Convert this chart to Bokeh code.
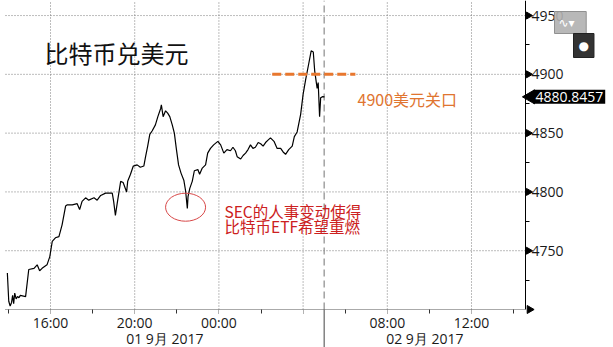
import math
import pandas as pd
from bokeh.plotting import figure
from bokeh.models import Range1d, FixedTicker, Label
from bokeh.core.properties import value
from bokeh.embed import file_html
from bokeh.resources import INLINE

# ---------------- data ----------------
times = [
    "2017-09-01 13:57", "2017-09-01 14:01", "2017-09-01 14:05", "2017-09-01 14:09",
    "2017-09-01 14:12", "2017-09-01 14:15", "2017-09-01 14:18", "2017-09-01 14:22",
    "2017-09-01 14:26", "2017-09-01 14:30", "2017-09-01 14:34", "2017-09-01 14:49",
    "2017-09-01 14:58", "2017-09-01 15:13", "2017-09-01 15:22", "2017-09-01 15:29",
    "2017-09-01 15:36", "2017-09-01 15:50", "2017-09-01 15:58", "2017-09-01 16:05",
    "2017-09-01 16:14", "2017-09-01 16:24", "2017-09-01 16:33", "2017-09-01 16:43",
    "2017-09-01 16:48", "2017-09-01 17:02", "2017-09-01 17:16", "2017-09-01 17:23",
    "2017-09-01 17:30", "2017-09-01 17:40", "2017-09-01 17:49", "2017-09-01 18:04",
    "2017-09-01 18:13", "2017-09-01 18:23", "2017-09-01 18:37", "2017-09-01 18:56",
    "2017-09-01 19:00", "2017-09-01 19:05", "2017-09-01 19:10", "2017-09-01 19:20",
    "2017-09-01 19:27", "2017-09-01 19:37", "2017-09-01 19:40", "2017-09-01 19:48",
    "2017-09-01 19:56", "2017-09-01 20:07", "2017-09-01 20:16", "2017-09-01 20:26",
    "2017-09-01 20:31", "2017-09-01 20:37", "2017-09-01 20:43", "2017-09-01 20:50",
    "2017-09-01 20:59", "2017-09-01 21:06", "2017-09-01 21:14", "2017-09-01 21:16",
    "2017-09-01 21:21", "2017-09-01 21:28", "2017-09-01 21:34", "2017-09-01 21:40",
    "2017-09-01 21:47", "2017-09-01 21:53", "2017-09-01 21:59", "2017-09-01 22:05",
    "2017-09-01 22:12", "2017-09-01 22:20", "2017-09-01 22:25", "2017-09-01 22:30",
    "2017-09-01 22:32", "2017-09-01 22:37", "2017-09-01 22:44", "2017-09-01 22:50",
    "2017-09-01 23:00", "2017-09-01 23:05", "2017-09-01 23:12", "2017-09-01 23:22",
    "2017-09-01 23:28", "2017-09-01 23:36", "2017-09-01 23:45", "2017-09-01 23:57",
    "2017-09-02 00:05", "2017-09-02 00:14", "2017-09-02 00:23", "2017-09-02 00:33",
    "2017-09-02 00:40", "2017-09-02 00:47", "2017-09-02 00:52", "2017-09-02 01:02",
    "2017-09-02 01:09", "2017-09-02 01:16", "2017-09-02 01:23", "2017-09-02 01:30",
    "2017-09-02 01:37", "2017-09-02 01:44", "2017-09-02 01:52", "2017-09-02 01:59",
    "2017-09-02 02:06", "2017-09-02 02:13", "2017-09-02 02:20", "2017-09-02 02:27",
    "2017-09-02 02:37", "2017-09-02 02:46", "2017-09-02 02:56", "2017-09-02 03:03",
    "2017-09-02 03:10", "2017-09-02 03:19", "2017-09-02 03:29", "2017-09-02 03:35",
    "2017-09-02 03:43", "2017-09-02 03:53", "2017-09-02 04:00", "2017-09-02 04:07",
    "2017-09-02 04:16", "2017-09-02 04:23", "2017-09-02 04:29", "2017-09-02 04:33",
    "2017-09-02 04:40", "2017-09-02 04:43", "2017-09-02 04:47", "2017-09-02 04:50",
    "2017-09-02 04:55", "2017-09-02 05:01",
]
prices = [
    4731, 4707, 4703, 4706,
    4712, 4705, 4714, 4709,
    4711, 4710, 4712, 4711,
    4734, 4735, 4738, 4733,
    4735, 4738, 4745, 4758,
    4761, 4762, 4772, 4788,
    4789, 4789, 4790, 4785,
    4792, 4795, 4793, 4795,
    4793, 4797, 4799, 4799,
    4792, 4780, 4790, 4809,
    4808, 4800, 4809, 4815,
    4822, 4823, 4821, 4822,
    4830, 4839, 4849, 4852,
    4857, 4864, 4871, 4874,
    4864, 4869, 4867, 4864,
    4857, 4850, 4836, 4823,
    4816, 4810, 4801, 4786,
    4796, 4803, 4809, 4818,
    4819, 4815, 4820, 4823,
    4833, 4837, 4840, 4843,
    4840, 4833, 4836, 4835,
    4838, 4835, 4830, 4828,
    4831, 4833, 4836, 4840,
    4837, 4838, 4842, 4841,
    4839, 4842, 4844, 4846,
    4843, 4837, 4837, 4834,
    4832, 4836, 4839, 4847,
    4851, 4866, 4883, 4895,
    4909, 4920, 4919, 4903,
    4888, 4893, 4864, 4880,
    4881, 4880.8457,
]
last_price = "4880.8457"
level_value = 4900
level_times = ["2017-09-02 02:32", "2017-09-02 06:29"]
level_text = "4900美元关口"
title_text = "比特币兑美元"
note_lines = ["SEC的人事变动使得", "比特币ETF希望重燃"]
dip_time = "2017-09-01 22:25"
dip_price = 4787
day_split = "2017-09-02 05:00"
day_labels = ["01 9月 2017", "02 9月 2017"]
x_tick_hours = [16, 20, 24, 28, 32, 36]
x_tick_labels = ["16:00", "20:00", "00:00", "", "08:00", "12:00"]
x_minor_hours = [14, 18, 22, 26, 30, 34, 38]
y_ticks = [4750, 4800, 4850, 4900, 4950]
y_minor = [4725, 4775, 4825, 4875, 4925]
y_base = 4700

origin = pd.Timestamp("2017-09-01")
def hours(t):
    return (pd.Timestamp(t) - origin).total_seconds() / 3600.0

xs = [hours(t) for t in times]

# ---------------- layout (frame = whole canvas) ----------------
W, H = 613, 347
X_LEFT, X_AXIS = 13.862, 38.565        # data x at the plot's left edge (px 5) and at the price axis (px 525)
Y_TOP = 4962.8                          # data y at the top of the canvas
PPX = (525 - 5) / (X_AXIS - X_LEFT)     # pixels per hour
PPY = 309 / (Y_TOP - y_base)            # pixels per dollar
XS = X_LEFT - 5 / PPX
XE = XS + W / PPX
YS = Y_TOP - H / PPY

def px_x(px):
    return XS + px / PPX
def px_y(py):
    return Y_TOP - py / PPY

p = figure(width=W, height=H, output_backend="svg", toolbar_location=None,
           x_range=Range1d(XS, XE), y_range=Range1d(YS, Y_TOP),
           y_axis_location="right", min_border=0)
p.outline_line_color = None
p.background_fill_color = "white"
p.border_fill_color = "white"
p.xgrid.visible = False
p.ygrid.visible = False

# bottom time axis, drawn at the 4700 level
xa = p.xaxis[0]
xa.fixed_location = y_base
xa.bounds = (X_LEFT, X_AXIS)
xa.ticker = FixedTicker(ticks=x_tick_hours, minor_ticks=x_minor_hours)
xa.major_label_overrides = {h: lab for h, lab in zip(x_tick_hours, x_tick_labels)}
xa.axis_line_color = "#555555"
xa.axis_line_dash = "1 1"
xa.major_tick_out = 4
xa.major_tick_in = 0
xa.major_tick_line_color = "#666666"
xa.major_tick_line_dash = "1 1"
xa.minor_tick_out = 4
xa.minor_tick_in = 0
xa.minor_tick_line_color = "#333333"
xa.major_label_text_font = "Open Sans"
xa.major_label_text_font_size = "14px"
xa.major_label_text_color = "#1a1a1a"
xa.major_label_standoff = -1

# price axis on the right
ya = p.yaxis[0]
ya.fixed_location = X_AXIS
ya.bounds = (y_base, Y_TOP)
ya.ticker = FixedTicker(ticks=y_ticks, minor_ticks=y_minor)
ya.axis_line_color = "black"
ya.axis_line_width = 1
ya.major_tick_out = 6
ya.major_tick_in = 0
ya.major_tick_line_color = None
ya.minor_tick_out = 4
ya.minor_tick_in = 0
ya.minor_tick_line_color = "black"
ya.major_label_text_font = "Open Sans"
ya.major_label_text_font_size = "14px"
ya.major_label_text_color = "#1a1a1a"
ya.major_label_standoff = 0

# dotted grid inside the plot area
grid_style = dict(line_color="#7a7a7a", line_dash="1 2", line_width=1)
p.segment(x0=x_tick_hours, y0=[y_base] * len(x_tick_hours),
          x1=x_tick_hours, y1=[Y_TOP] * len(x_tick_hours), **grid_style)
p.segment(x0=[X_LEFT] * len(y_ticks), y0=y_ticks,
          x1=[X_AXIS] * len(y_ticks), y1=y_ticks, **grid_style)

# arrow heads on the price axis and the time axis
p.scatter([X_AXIS + 3 / PPX] * len(y_ticks), y_ticks, marker="triangle", size=7,
          angle=-math.pi / 2, color="black")
p.scatter([X_AXIS + 4 / PPX], [y_base], marker="triangle", size=8,
          angle=-math.pi / 2, color="black")

# day divider
split_h = hours(day_split)
p.segment(x0=[split_h], y0=[y_base], x1=[split_h], y1=[Y_TOP],
          line_color="#8a8a8a", line_dash="7 4", line_width=1.2)
p.segment(x0=[split_h], y0=[YS], x1=[split_h], y1=[y_base],
          line_color="#444444", line_width=1)

# date labels under the time axis
p.text([(X_LEFT + split_h) / 2, (split_h + X_AXIS) / 2], [px_y(338)] * 2, text=day_labels,
       text_font=value("Open Sans"), text_font_size="14px", text_color="#1a1a1a",
       text_align="center", text_baseline="middle")

# price line
p.line(xs, prices, line_color="black", line_width=1.2)

# 4900 level
p.line([hours(t) for t in level_times], [level_value, level_value],
       line_color="#E8772E", line_width=3, line_dash="9 4")
p.text([px_x(357)], [px_y(98)], text=[level_text], text_font=value("Noto Sans CJK SC"),
       text_font_size="16px", text_color="#E07530", text_baseline="middle", text_align="left")

# title
p.text([px_x(44)], [px_y(52)], text=[title_text], text_font=value("Noto Sans CJK SC"),
       text_font_size="24px", text_color="#111111", text_baseline="middle", text_align="left")

# dip ellipse and note
p.ellipse([hours(dip_time)], [dip_price], width=40 / PPX, height=28 / PPY,
          fill_color=None, line_color="#D84848", line_width=1)
p.text([px_x(224)] * 2, [px_y(210), px_y(225.5)], text=note_lines,
       text_font=value("Noto Sans CJK SC"), text_font_size="15.5px", text_color="#CC2020",
       text_baseline="middle", text_align="left")

# last price tag
p.scatter([X_AXIS + 5 / PPX], [prices[-1]], marker="triangle", size=14,
          angle=math.pi / 2, color="black")
p.add_layout(Label(x=X_AXIS, y=prices[-1], x_offset=8, text=last_price, text_color="white",
                   text_font="Open Sans", text_font_size="14px", text_baseline="middle",
                   text_align="left", background_fill_color="black", padding=2))

# corner buttons
p.add_layout(Label(x=px_x(554), y=px_y(11), text=" ∿▾ ", text_color="white",
                   text_font="DejaVu Sans", text_font_size="12px", text_baseline="top",
                   text_align="left", background_fill_color="#b0b0b0",
                   background_fill_alpha=0.9, border_line_color="#909090", padding=4))
p.add_layout(Label(x=px_x(573), y=px_y(33), text="●", text_color="white",
                   text_font="DejaVu Sans", text_font_size="12px", text_baseline="top",
                   text_align="left", background_fill_color="#333333",
                   border_line_color="#222222", padding=5))

open("out.html", "w").write(file_html(p, INLINE))
